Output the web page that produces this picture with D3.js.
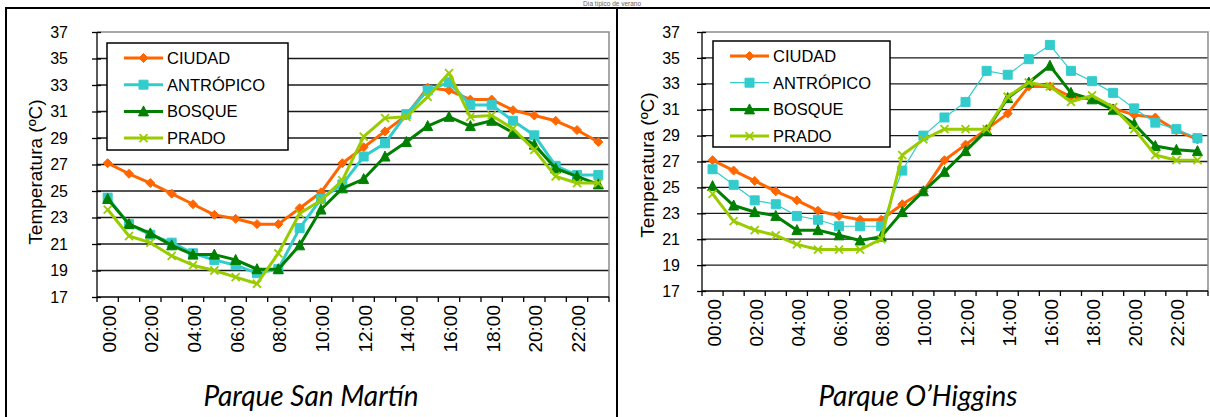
<!DOCTYPE html>
<html>
<head>
<meta charset="utf-8">
<script src="https://cdn.jsdelivr.net/npm/d3@7"></script>
<style>
  html, body { margin: 0; padding: 0; background: #fff; }
  svg { display: block; }
</style>
</head>
<body>
<svg id="chart" width="1210" height="417"></svg>
<script>
// Hourly categories and the labels shown on the x axis
const hours = d3.range(24).map(h => String(h).padStart(2, "0") + ":00");
const hourTickLabels = ["00:00","02:00","04:00","06:00","08:00","10:00","12:00","14:00","16:00","18:00","20:00","22:00"];
const tempTicks = [17,19,21,23,25,27,29,31,33,35,37];

const seriesNames = ["CIUDAD", "ANTRÓPICO", "BOSQUE", "PRADO"];
const panelTitles = ["Parque San Martín", "Parque O\u2019Higgins"];

// Parque San Martín (°C)
const sanMartinCiudad   = [27.1,26.3,25.6,24.8,24.0,23.2,22.9,22.5,22.5,23.7,24.9,27.1,28.3,29.5,30.7,32.8,32.6,31.9,31.9,31.1,30.7,30.3,29.6,28.7];
const sanMartinAntropico= [24.5,22.5,21.7,21.1,20.3,19.8,19.4,18.8,19.1,22.2,24.4,25.5,27.6,28.6,30.8,32.6,33.2,31.5,31.5,30.3,29.2,26.9,26.2,26.2];
const sanMartinBosque   = [24.4,22.5,21.8,20.9,20.2,20.2,19.8,19.1,19.1,20.9,23.6,25.2,25.9,27.6,28.7,29.9,30.6,29.9,30.3,29.4,28.5,26.7,26.1,25.5];
const sanMartinPrado    = [23.6,21.6,21.1,20.1,19.4,19.0,18.5,18.0,20.3,23.3,24.3,25.8,29.1,30.5,30.6,32.1,33.9,30.6,30.7,29.7,28.1,26.1,25.6,25.6];

// Parque O'Higgins (°C)
const ohigginsCiudad    = [27.1,26.3,25.5,24.7,24.0,23.2,22.8,22.5,22.5,23.7,24.7,27.1,28.3,29.5,30.7,32.8,32.8,32.0,31.8,31.1,30.6,30.4,29.4,28.7];
const ohigginsAntropico = [26.4,25.2,24.0,23.7,22.8,22.5,22.0,22.0,22.0,26.3,29.0,30.4,31.6,34.0,33.7,34.9,36.0,34.0,33.2,32.3,31.1,30.0,29.5,28.8];
const ohigginsBosque    = [25.1,23.6,23.1,22.8,21.7,21.7,21.3,20.9,21.2,23.1,24.7,26.2,27.8,29.4,31.9,33.1,34.4,32.3,31.8,31.0,29.9,28.2,27.9,27.8];
const ohigginsPrado     = [24.5,22.4,21.7,21.3,20.6,20.2,20.2,20.2,21.0,27.5,28.7,29.5,29.5,29.5,32.0,33.1,32.8,31.6,32.1,31.2,29.5,27.5,27.1,27.1];

const seriesColors = ["#FF6600", "#33CCCC", "#008000", "#99CC00"];
const seriesMarkers = ["diamond", "square", "triangle", "x"];

const svg = d3.select("#chart");

// Small heading above the table frame
svg.append("text")
  .attr("x", 612).attr("y", 5.5)
  .attr("text-anchor", "middle")
  .attr("font-family", "Liberation Sans, Arial, sans-serif")
  .attr("font-size", 6.5)
  .attr("fill", "#666")
  .text("Día típico de verano");

// Table frame around the two panels
const frame = svg.append("g").attr("stroke", "#000").attr("stroke-width", 2);
frame.append("line").attr("x1", 5).attr("x2", 1210).attr("y1", 8).attr("y2", 8);
frame.append("line").attr("x1", 6).attr("x2", 6).attr("y1", 8).attr("y2", 417);
frame.append("line").attr("x1", 617).attr("x2", 617).attr("y1", 8).attr("y2", 417);

function markerPath(kind, s) {
  const h = s / 2;
  if (kind === "diamond") return `M0,${-h}L${h},0L0,${h}L${-h},0Z`;
  if (kind === "square") return `M${-h},${-h}H${h}V${h}H${-h}Z`;
  if (kind === "triangle") return `M0,${-h - 1}L${h + 0.5},${h}L${-h - 0.5},${h}Z`;
  return `M${-h},${-h}L${h},${h}M${h},${-h}L${-h},${h}`;
}

function drawMarker(g, kind, color, cx, cy) {
  const sizes = { diamond: 9, square: 9, triangle: 9, x: 8 };
  const p = g.append("path")
    .attr("transform", `translate(${cx},${cy})`)
    .attr("d", markerPath(kind, sizes[kind]));
  if (kind === "x") p.attr("fill", "none").attr("stroke", color).attr("stroke-width", 1.8);
  else p.attr("fill", color).attr("stroke", color).attr("stroke-width", 1);
}

function drawPanel(cfg) {
  const g = svg.append("g");
  const x = d3.scaleBand().domain(hours).range([cfg.left, cfg.right]);
  const y = d3.scaleLinear().domain([17, 37]).range([cfg.bottom, cfg.top]);

  // Horizontal gridlines
  g.append("g")
    .selectAll("line")
    .data(tempTicks.filter(t => t > 17 && t < 37))
    .join("line")
    .attr("x1", cfg.left).attr("x2", cfg.right)
    .attr("y1", d => y(d)).attr("y2", d => y(d))
    .attr("stroke", "#1a1a1a").attr("stroke-width", 1.3);

  // Plot area border
  g.append("path")
    .attr("d", `M${cfg.left},${y(37)}H${cfg.right}V${y(17)}`)
    .attr("fill", "none").attr("stroke", "#8c8c8c").attr("stroke-width", 1.5);

  // Y axis
  const yAxis = g.append("g")
    .attr("transform", `translate(${cfg.left},0)`)
    .call(d3.axisLeft(y).tickValues(tempTicks).tickSize(5).tickPadding(cfg.tickPad).tickFormat(d3.format("d")));
  yAxis.select(".domain").attr("stroke", "#000").attr("stroke-width", 1.3).attr("d", `M0,${y(37)}V${y(17)}`);
  yAxis.selectAll(".tick line").attr("x2", 4).attr("x1", -5).attr("stroke", "#000").attr("stroke-width", 1.3);
  yAxis.selectAll("text")
    .attr("font-family", "Liberation Sans, Arial, sans-serif")
    .attr("font-size", 16).attr("fill", "#000");

  // X axis line and category boundary ticks
  g.append("line")
    .attr("x1", cfg.left).attr("x2", cfg.right)
    .attr("y1", cfg.bottom).attr("y2", cfg.bottom)
    .attr("stroke", "#000").attr("stroke-width", 1.3);
  g.append("g").selectAll("line")
    .data(hours.concat(["end"]))
    .join("line")
    .attr("x1", d => d === "end" ? cfg.right : x(d))
    .attr("x2", d => d === "end" ? cfg.right : x(d))
    .attr("y1", cfg.bottom).attr("y2", cfg.bottom + 5)
    .attr("stroke", "#000").attr("stroke-width", 1.3);

  // Rotated hour labels
  g.append("g").selectAll("text")
    .data(hourTickLabels)
    .join("text")
    .attr("transform", d => `translate(${x(d) + x.bandwidth() / 2 + 8},${cfg.bottom + cfg.labelGap}) rotate(-90)`)
    .attr("text-anchor", "end")
    .attr("font-family", "Liberation Sans, Arial, sans-serif")
    .attr("font-size", 19)
    .attr("fill", "#000")
    .text(d => d);

  // Y axis title
  g.append("text")
    .attr("transform", `translate(${cfg.yTitleX},${cfg.yTitleY}) rotate(-90)`)
    .attr("text-anchor", "middle")
    .attr("font-family", "Liberation Sans, Arial, sans-serif")
    .attr("font-size", 19)
    .attr("fill", "#000")
    .text("Temperatura (ºC)");

  // Series lines and markers
  cfg.series.forEach((vals, i) => {
    const line = d3.line()
      .x((d, j) => x(hours[j]) + x.bandwidth() / 2)
      .y(d => y(d));
    g.append("path")
      .datum(vals)
      .attr("d", line)
      .attr("fill", "none")
      .attr("stroke", seriesColors[i])
      .attr("stroke-width", cfg.widths[i])
      .attr("stroke-linejoin", "round");
    const mg = g.append("g");
    vals.forEach((v, j) => drawMarker(mg, seriesMarkers[i], seriesColors[i], x(hours[j]) + x.bandwidth() / 2, y(v)));
  });

  // Legend
  const lg = g.append("g");
  lg.append("rect")
    .attr("x", cfg.legend.x).attr("y", cfg.legend.y)
    .attr("width", cfg.legend.w).attr("height", cfg.legend.h)
    .attr("fill", "#fff").attr("stroke", "#000").attr("stroke-width", 1.5);
  seriesNames.forEach((name, i) => {
    const ry = cfg.legend.y + 15 + i * 26.7;
    const lx0 = cfg.legend.x + 17, lx1 = cfg.legend.x + 56;
    lg.append("line")
      .attr("x1", lx0).attr("x2", lx1).attr("y1", ry).attr("y2", ry)
      .attr("stroke", seriesColors[i]).attr("stroke-width", cfg.widths[i]);
    drawMarker(lg, seriesMarkers[i], seriesColors[i], (lx0 + lx1) / 2, ry);
    lg.append("text")
      .attr("x", cfg.legend.x + 60).attr("y", ry + 6)
      .attr("font-family", "Liberation Sans, Arial, sans-serif")
      .attr("font-size", 16.5).attr("fill", "#000")
      .text(name);
  });

  // Panel title
  g.append("text")
    .attr("x", cfg.titleX).attr("y", 406)
    .attr("text-anchor", "middle")
    .attr("font-family", "Lato, 'Open Sans', sans-serif")
    .attr("font-style", "italic")
    .attr("font-size", 28)
    .attr("fill", "#000")
    .text(cfg.title);
}

drawPanel({
  left: 97, right: 609, top: 32, bottom: 297, labelGap: 8, tickPad: 24,
  yTitleX: 42, yTitleY: 172, titleX: 311, title: panelTitles[0],
  series: [sanMartinCiudad, sanMartinAntropico, sanMartinBosque, sanMartinPrado],
  widths: [3, 3, 3, 3],
  legend: { x: 107, y: 43, w: 181, h: 107 }
});

drawPanel({
  left: 702, right: 1208, top: 32, bottom: 291, labelGap: 8, tickPad: 17,
  yTitleX: 654, yTitleY: 165, titleX: 918, title: panelTitles[1],
  series: [ohigginsCiudad, ohigginsAntropico, ohigginsBosque, ohigginsPrado],
  widths: [3, 1.2, 3, 3],
  legend: { x: 713, y: 41, w: 177, h: 106 }
});
</script>
</body>
</html>
